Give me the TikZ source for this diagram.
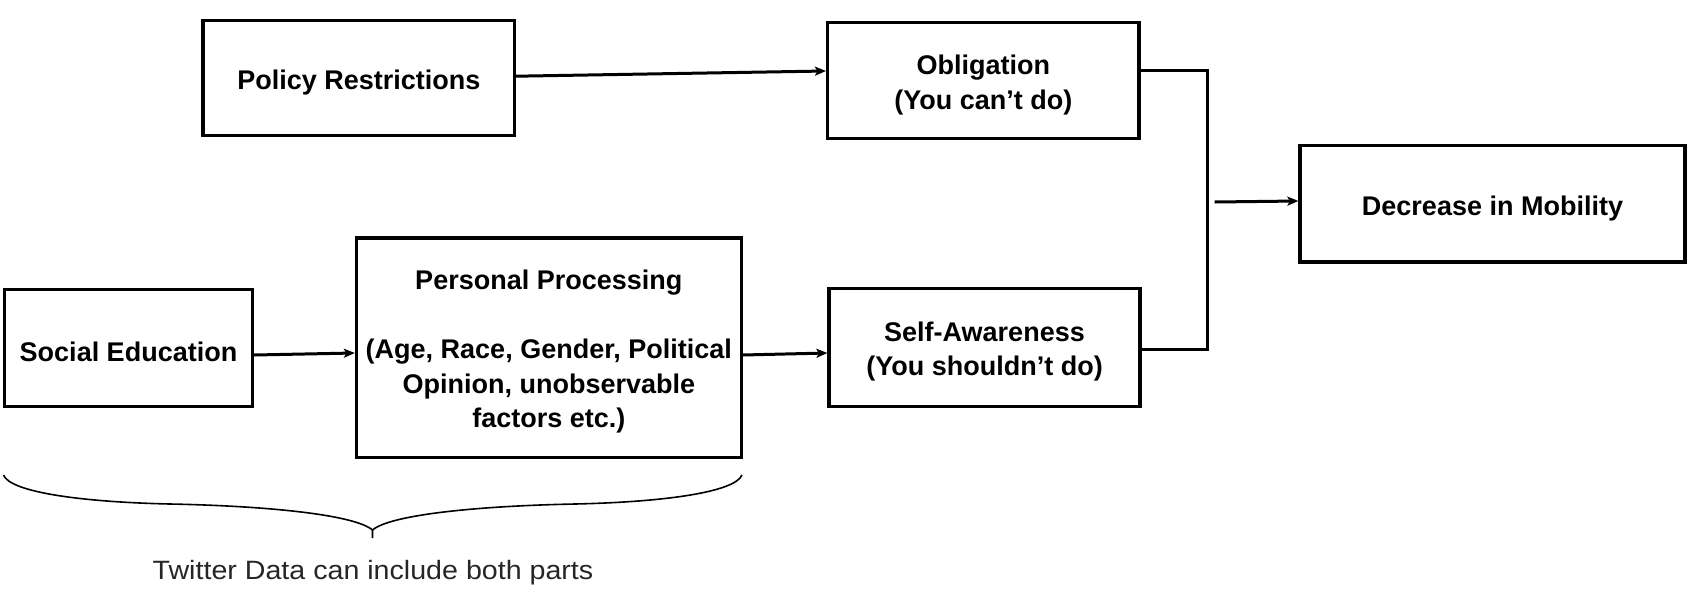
\documentclass[tikz,border=0pt]{standalone}
\usepackage{fontspec}
\setmainfont{Liberation Sans}
\newfontfamily\twfont[FakeStretch=1.08]{Liberation Sans}
\usetikzlibrary{arrows.meta,calc}
\newcommand{\bxstrut}{\rule{0pt}{28pt}}
\begin{document}
\begin{tikzpicture}[x=1pt,y=-1pt,
  box/.style={draw=black,line width=3.2pt,inner sep=0pt,align=center,
    font=\bfseries\fontsize{27}{34.5}\selectfont},
  arr/.style={line width=3pt,-{Stealth[length=11pt,width=9pt,inset=2.5pt]}},
  conn/.style={line width=3pt},
  brace/.style={line width=1.6pt,line join=round},
  note/.style={font=\twfont\fontsize{26.5}{32}\selectfont,text=black!85}]
\useasboundingbox (0,0) rectangle (1692,595);
\node[box,minimum width=311.5pt,minimum height=115pt] (pol) at (358.8,78.2) {\bxstrut Policy Restrictions};
\node[box,minimum width=311.5pt,minimum height=116pt] (obl) at (983.3,80.7) {\bxstrut Obligation\\(You can’t do)};
\node[box,minimum width=385pt,minimum height=116.5pt] (dec) at (1492.5,203.8) {\bxstrut Decrease in Mobility};
\node[box,minimum width=248pt,minimum height=117pt] (soc) at (128.5,348) {\bxstrut Social Education};
\node[box,minimum width=384.7pt,minimum height=219.3pt] (per) at (548.8,347.7) {\bxstrut Personal Processing\\[34.5pt](Age, Race, Gender, Political\\Opinion, unobservable\\factors etc.)};
\node[box,minimum width=311pt,minimum height=117.6pt] (sel) at (984.5,347.5) {\bxstrut Self-Awareness\\(You shouldn’t do)};
\coordinate (jt) at (1207.5,70.7);
\coordinate (jb) at (1207.5,349.3);
\coordinate (js) at (1214.6,202);
\draw[arr] ($(pol.east)+(0,-2)$) -- ($(obl.west)+(0,-9.7)$);
\draw[arr] ($(soc.east)+(0,7)$) -- ($(per.west)+(0,5.3)$);
\draw[arr] ($(per.east)+(0,7.3)$) -- ($(sel.west)+(0,5.5)$);
\draw[conn] ($(obl.east)+(0,-10)$) -- (jt) -- (jb) -- ($(sel.east)+(0,1.8)$);
\draw[arr] (js) -- ($(dec.west)+(0,-2.8)$);
\draw[brace] (3.5,475) .. controls (10,492) and (80,502) .. (170,504)
  .. controls (270,506) and (355,515) .. (372.5,530) -- (372.5,538);
\draw[brace] (372.5,530) .. controls (390,515) and (475,506) .. (575,504)
  .. controls (665,502) and (735,492) .. (742,475);
\node[note] (tw) at (373,573) {Twitter Data can include both parts};
\end{tikzpicture}
\end{document}
